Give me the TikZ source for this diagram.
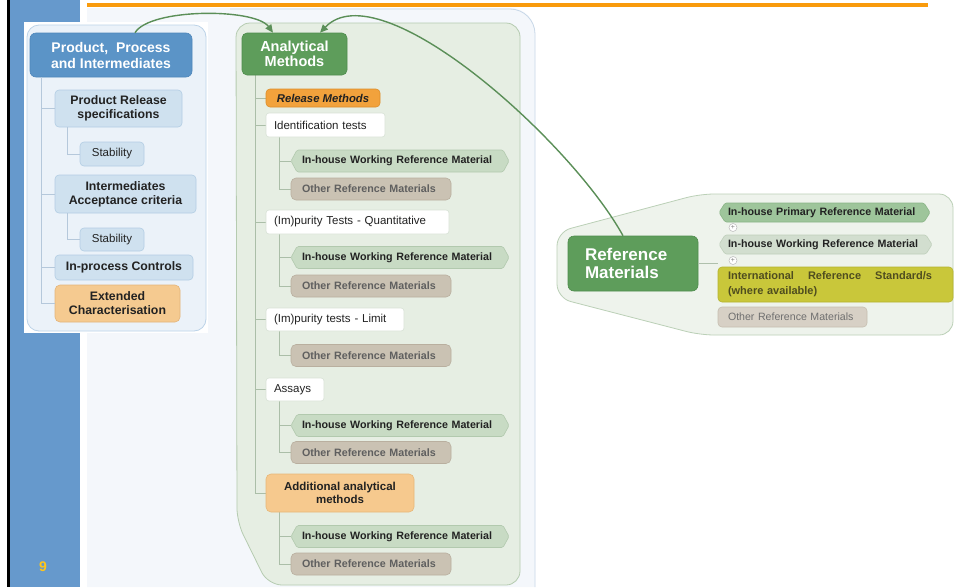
\documentclass[tikz,border=0pt]{standalone}
\usepackage{fontspec}
\setmainfont{Liberation Sans}
\usetikzlibrary{arrows.meta}
\definecolor{cStrip}{HTML}{6699CC}
\definecolor{cOrange}{HTML}{F99B0D}
\definecolor{cPale}{HTML}{F4F7FB}
\definecolor{cOuter}{HTML}{C8D8E8}
\definecolor{cLPfill}{HTML}{EBF2F9}
\definecolor{cLPdraw}{HTML}{BCD3E8}
\definecolor{cMainBlue}{HTML}{5B94C7}
\definecolor{cMainBlueD}{HTML}{4E86BA}
\definecolor{cLB}{HTML}{CFE1EF}
\definecolor{cLBd}{HTML}{B3CDE4}
\definecolor{cExt}{HTML}{F5CA90}
\definecolor{cExtD}{HTML}{E3B47A}
\definecolor{cGPfill}{HTML}{E6EEE3}
\definecolor{cGPdraw}{HTML}{B5CBB0}
\definecolor{cGreen}{HTML}{5E9D5B}
\definecolor{cGreenD}{HTML}{4F8C4D}
\definecolor{cRel}{HTML}{F2A23C}
\definecolor{cRelD}{HTML}{DD8E2A}
\definecolor{cAdd}{HTML}{F6C98E}
\definecolor{cAddD}{HTML}{E6B77A}
\definecolor{cIHW}{HTML}{C8DBC4}
\definecolor{cIHWd}{HTML}{B2C9AE}
\definecolor{cORM}{HTML}{CAC2B3}
\definecolor{cORMd}{HTML}{B9AF9F}
\definecolor{cORMtxt}{HTML}{5F5F5F}
\definecolor{cRPfill}{HTML}{EEF3EC}
\definecolor{cRPdraw}{HTML}{BBD0B7}
\definecolor{cIHP}{HTML}{9EC59B}
\definecolor{cIHPd}{HTML}{8AB487}
\definecolor{cIHWR}{HTML}{D2DECF}
\definecolor{cIHWRd}{HTML}{BFCFBB}
\definecolor{cIRS}{HTML}{C9C73A}
\definecolor{cIRSd}{HTML}{B5B330}
\definecolor{cIRStxt}{HTML}{4F4D1F}
\definecolor{cORMR}{HTML}{D7D0C5}
\definecolor{cORMRd}{HTML}{C6BEB0}
\definecolor{cTreeL}{HTML}{B5C8DB}
\definecolor{cTreeM}{HTML}{ABBEA8}
\definecolor{cConn}{HTML}{5B8F58}
\definecolor{cNine}{HTML}{FFC61A}
\definecolor{cTxt}{HTML}{222222}
\definecolor{cWhiteD}{HTML}{D8E2D6}
\tikzset{
  every node/.style={inner sep=0pt, align=center},
  mainblue/.style={fill=cMainBlue, draw=cMainBlueD, line width=0.6pt, rounded corners=6pt, text=white, font=\bfseries\fontsize{14}{16}\selectfont},
  lbbold/.style={fill=cLB, draw=cLBd, line width=0.6pt, rounded corners=4pt, text=cTxt, font=\bfseries\fontsize{12.3}{14}\selectfont},
  lbreg/.style={fill=cLB, draw=cLBd, line width=0.6pt, rounded corners=4pt, text=cTxt, font=\fontsize{11.5}{13}\selectfont},
  extbox/.style={fill=cExt, draw=cExtD, line width=0.6pt, rounded corners=5pt, text=cTxt, font=\bfseries\fontsize{12.3}{14}\selectfont},
  greenmain/.style={fill=cGreen, draw=cGreenD, line width=0.6pt, rounded corners=5pt, text=white, font=\bfseries\fontsize{14.5}{15.5}\selectfont},
  greenbig/.style={fill=cGreen, draw=cGreenD, line width=0.6pt, rounded corners=6pt, text=white, font=\bfseries\fontsize{17}{18}\selectfont},
  relbox/.style={fill=cRel, draw=cRelD, line width=0.6pt, rounded corners=4pt, text=cTxt, font=\bfseries\itshape\fontsize{11.3}{13}\selectfont},
  whitebox/.style={fill=white, draw=cWhiteD, line width=0.6pt, rounded corners=3pt, text=cTxt, align=left, font=\fontsize{11.5}{13}\selectfont},
  addbox/.style={fill=cAdd, draw=cAddD, line width=0.6pt, rounded corners=5pt, text=cTxt, font=\bfseries\fontsize{11.5}{13.5}\selectfont},
  chevtext/.style={align=left, text=cTxt, font=\bfseries\fontsize{10.7}{12}\selectfont},
  ormbox/.style={fill=cORM, draw=cORMd, line width=0.6pt, rounded corners=5pt, text=cORMtxt, align=left, font=\bfseries\fontsize{10.7}{12}\selectfont},
  irsbox/.style={fill=cIRS, draw=cIRSd, line width=0.6pt, rounded corners=4pt, text=cIRStxt, align=left, font=\bfseries\fontsize{11}{15}\selectfont},
  ormrbox/.style={fill=cORMR, draw=cORMRd, line width=0.6pt, rounded corners=4pt, text=cORMtxt!90!white, align=left, font=\fontsize{10.6}{12}\selectfont},
  plusc/.style={circle, draw=gray!55, fill=white, line width=0.5pt, minimum size=8pt, text=gray, font=\fontsize{7}{7}\selectfont},
  treeL/.style={draw=cTreeL, line width=0.8pt},
  treeM/.style={draw=cTreeM, line width=0.8pt},
  conn/.style={draw=cConn, line width=1.4pt, -{Triangle[length=8pt,width=7pt]}}
}
\newcommand\chevnode[9]{%
  \filldraw[fill=#6, draw=#7, line width=0.6pt, rounded corners=1.5pt]
    ({#2-#4/2},#3) -- ({#2-#4/2+6},{#3-#5/2}) -- ({#2+#4/2-6},{#3-#5/2}) --
    ({#2+#4/2},#3) -- ({#2+#4/2-6},{#3+#5/2}) -- ({#2-#4/2+6},{#3+#5/2}) -- cycle;
  \node[chevtext, minimum width=#4pt, minimum height=#5pt, text width=#8pt] (#1) at (#2,#3) {#9};}
\begin{document}
\begin{tikzpicture}[x=1pt,y=-1pt]
\useasboundingbox (0,0) rectangle (955,587);
% background
\fill[white] (0,0) rectangle (955,587);
\fill[black] (7,0) rectangle (9.5,587);
\fill[cStrip] (9.5,0) rectangle (80,587);
\fill[cPale] (87,8) -- (510,8) arc[start angle=-90,end angle=0,radius=25] -- (535,587) -- (87,587) -- cycle;
\draw[cOuter, line width=0.8pt] (230,9) -- (510,9) arc[start angle=-90,end angle=0,radius=25] -- (535,587);
\fill[cOrange] (87,2.5) rectangle (928,7);
% left overlay panel
\fill[white] (24,22) rectangle (208,333);
\draw[cLPdraw, fill=cLPfill, line width=0.8pt, rounded corners=12pt] (27,25) rectangle (206,331);
% middle panel
\draw[cGPdraw, fill=cGPfill, line width=0.8pt, rounded corners=14pt] (236,23) -- (520,23) -- (520,585) -- (268,585) -- (237,522) -- cycle;
% right panel
\draw[cRPdraw, fill=cRPfill, line width=0.8pt, rounded corners=14pt] (953,194) -- (700,194) -- (557,232) -- (557,298) -- (700,335) -- (953,335) -- cycle;

% ---- left nodes
\node[mainblue, minimum width=162pt, minimum height=44pt] (ppi) at (111,55) {Product,\ \ Process\\and Intermediates};
\node[lbbold, minimum width=127pt, minimum height=37pt] (prs) at (118.5,108.5) {Product Release\\specifications};
\node[lbreg, minimum width=64pt, minimum height=24pt] (stab1) at (112,154) {Stability};
\node[lbbold, minimum width=141pt, minimum height=38pt] (iac) at (125.5,194) {Intermediates\\Acceptance criteria};
\node[lbreg, minimum width=64pt, minimum height=23pt] (stab2) at (112,239.5) {Stability};
\node[lbbold, minimum width=138pt, minimum height=25pt] (ipc) at (124,267.5) {In-process Controls};
\node[extbox, minimum width=125pt, minimum height=37pt] (ext) at (117.5,303.5) {Extended\\Characterisation};
\draw[treeL] ([xshift=12pt]ppi.south west) |- (prs.west);
\draw[treeL] ([xshift=12pt]ppi.south west) |- (iac.west);
\draw[treeL] ([xshift=12pt]ppi.south west) |- (ipc.west);
\draw[treeL] ([xshift=12pt]ppi.south west) |- (ext.west);
\draw[treeL] ([xshift=13pt]prs.south west) |- (stab1.west);
\draw[treeL] ([xshift=13pt]iac.south west) |- (stab2.west);

% ---- middle tree lines (drawn first)
\coordinate (amt) at (255,75);
\draw[treeM] (amt) |- (266,493);
\foreach \yy in {98,125,222,319.5,389.5} {\draw[treeM] (255,\yy) -- (266,\yy);}
\draw[treeM] (279,137) |- (291,189);   \draw[treeM] (279,161) -- (291,161);
\draw[treeM] (279,234) |- (291,286);   \draw[treeM] (279,257.5) -- (291,257.5);
\draw[treeM] (279,331) |- (291,355.5);
\draw[treeM] (279,401) |- (291,452.5); \draw[treeM] (279,425.5) -- (291,425.5);
\draw[treeM] (279,512) |- (291,564);   \draw[treeM] (279,536.5) -- (291,536.5);

% ---- middle nodes
\node[greenmain, minimum width=105pt, minimum height=42pt] (am) at (294.5,54) {Analytical\\Methods};
\node[relbox, minimum width=114pt, minimum height=18pt] (rm) at (323,98) {Release Methods};
\node[whitebox, minimum width=119pt, text width=103pt, minimum height=24pt] (idt) at (325.5,125) {Identification tests};
\chevnode{ihw1}{400}{161}{218}{22}{cIHW}{cIHWd}{196}{In-house Working Reference Material}
\node[ormbox, minimum width=160pt, text width=138pt, minimum height=22pt] (orm1) at (371,189) {Other Reference Materials};
\node[whitebox, minimum width=183pt, text width=167pt, minimum height=24pt] (imq) at (357.5,222) {(Im)purity Tests - Quantitative};
\chevnode{ihw2}{400}{257.5}{218}{22}{cIHW}{cIHWd}{196}{In-house Working Reference Material}
\node[ormbox, minimum width=160pt, text width=138pt, minimum height=22pt] (orm2) at (371,286) {Other Reference Materials};
\node[whitebox, minimum width=138pt, text width=122pt, minimum height=23pt] (iml) at (335,319.5) {(Im)purity tests - Limit};
\node[ormbox, minimum width=160pt, text width=138pt, minimum height=22pt] (orm3) at (371,355.5) {Other Reference Materials};
\node[whitebox, minimum width=58pt, text width=42pt, minimum height=23pt] (asy) at (295,389.5) {Assays};
\chevnode{ihw3}{400}{425.5}{218}{22}{cIHW}{cIHWd}{196}{In-house Working Reference Material}
\node[ormbox, minimum width=160pt, text width=138pt, minimum height=22pt] (orm4) at (371,452.5) {Other Reference Materials};
\node[addbox, minimum width=148pt, minimum height=38pt] (add) at (340,493) {Additional analytical\\methods};
\chevnode{ihw4}{400}{536.5}{218}{22}{cIHW}{cIHWd}{196}{In-house Working Reference Material}
\node[ormbox, minimum width=160pt, text width=138pt, minimum height=22pt] (orm5) at (371,564) {Other Reference Materials};

% ---- right nodes
\node[greenbig, minimum width=130pt, minimum height=55pt, text width=96pt, align=left] (refm) at (633,263.5) {Reference\\Materials};
\chevnode{ihp}{824.5}{212.5}{211}{19}{cIHP}{cIHPd}{193}{In-house Primary Reference Material}
\node[plusc] (pl1) at (733,227.5) {+};
\chevnode{ihwr}{825.5}{244.5}{213}{19}{cIHWR}{cIHWRd}{195}{In-house Working Reference Material}
\node[plusc] (pl2) at (733,260.5) {+};
\node[irsbox, minimum width=235pt, minimum height=35pt, text width=215pt] (irs) at (835.5,284.5) {International\hspace{14pt}Reference\hspace{14pt}Standard/s\\(where available)};
\node[ormrbox, minimum width=149pt, minimum height=20pt, text width=129pt] (ormr) at (792.5,317) {Other Reference Materials};
\draw[cRPdraw!80!gray, line width=0.6pt] (refm.east) -- (refm.east -| irs.west);

% ---- connectors
\draw[conn] ([xshift=24pt]ppi.north) .. controls (150,8) and (255,8) .. ([xshift=-21.5pt]am.north);
\draw[conn] ([xshift=-10pt]refm.north) .. controls (570,140) and (380,-30) .. ([xshift=25.5pt]am.north);

% ---- page number
\node[text=cNine, font=\bfseries\fontsize{14}{14}\selectfont] (pgnum) at (43,567) {9};
\end{tikzpicture}
\end{document}
